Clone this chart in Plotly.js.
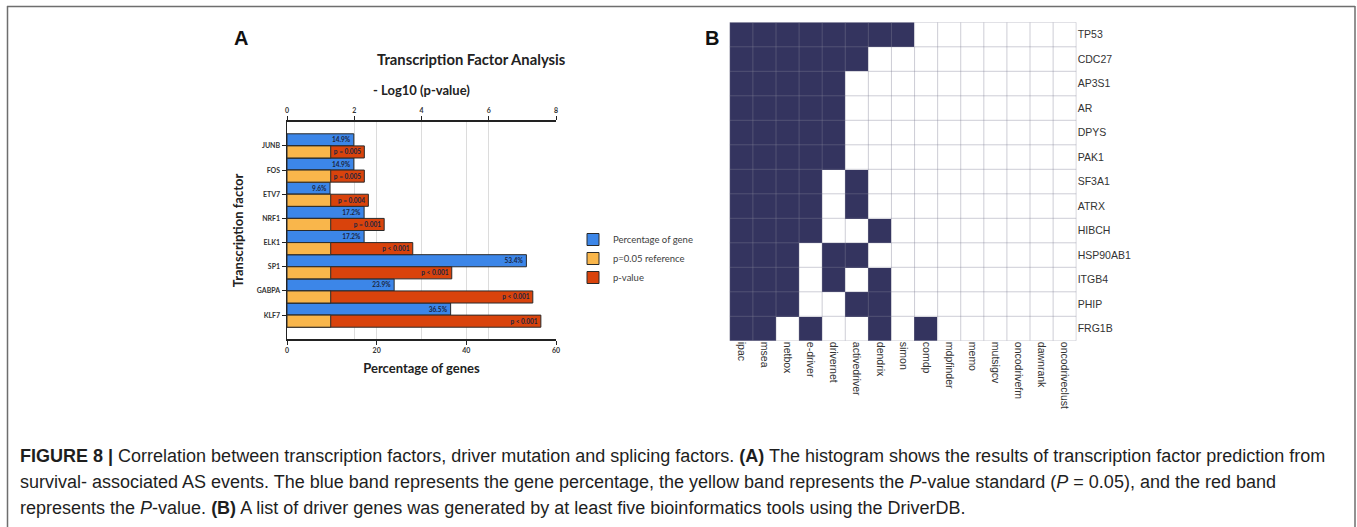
<!DOCTYPE html>
<html>
<head>
<meta charset="utf-8">
<script src="https://cdn.plot.ly/plotly-3.0.1.min.js"></script>
<style>html,body{margin:0;padding:0;background:#fff;}#chart{width:1357px;height:527px;}</style>
</head>
<body>
<div id="chart"></div>
<script>
// ---------- Panel A data ----------
const factors = ["JUNB", "FOS", "ETV7", "NRF1", "ELK1", "SP1", "GABPA", "KLF7"];
const genePct = [14.9, 14.9, 9.6, 17.2, 17.2, 53.4, 23.9, 36.5];
const genePctLabels = ["14.9%", "14.9%", "9.6%", "17.2%", "17.2%", "53.4%", "23.9%", "36.5%"];
const negLogP = [2.30, 2.30, 2.42, 2.89, 3.74, 4.90, 7.31, 7.55];
const pLabels = ["p = 0.005", "p = 0.005", "p = 0.004", "p = 0.001", "p < 0.001", "p < 0.001", "p < 0.001", "p < 0.001"];
const refLogP = [1.3, 1.3, 1.3, 1.3, 1.3, 1.3, 1.3, 1.3];

// ---------- Panel B data ----------
const tools = ["ipac", "msea", "netbox", "e-driver", "drivernet", "activedriver", "dendrix", "simon", "comdp", "mdpfinder", "memo", "mutsigcv", "oncodrivefm", "dawnrank", "oncodriveclust"];
const genes = ["TP53", "CDC27", "AP3S1", "AR", "DPYS", "PAK1", "SF3A1", "ATRX", "HIBCH", "HSP90AB1", "ITGB4", "PHIP", "FRG1B"];
const hits = [
  [1,1,1,1,1,1,1,1,0,0,0,0,0,0,0],
  [1,1,1,1,1,1,0,0,0,0,0,0,0,0,0],
  [1,1,1,1,1,0,0,0,0,0,0,0,0,0,0],
  [1,1,1,1,1,0,0,0,0,0,0,0,0,0,0],
  [1,1,1,1,1,0,0,0,0,0,0,0,0,0,0],
  [1,1,1,1,1,0,0,0,0,0,0,0,0,0,0],
  [1,1,1,1,0,1,0,0,0,0,0,0,0,0,0],
  [1,1,1,1,0,1,0,0,0,0,0,0,0,0,0],
  [1,1,1,1,0,0,1,0,0,0,0,0,0,0,0],
  [1,1,1,0,1,1,0,0,0,0,0,0,0,0,0],
  [1,1,1,0,1,0,1,0,0,0,0,0,0,0,0],
  [1,1,1,0,0,1,1,0,0,0,0,0,0,0,0],
  [1,1,0,1,0,0,1,0,1,0,0,0,0,0,0]
];

const W = 1357, H = 527;
const px = v => v / W;
const py = v => 1 - v / H;

const barFont = {family: "Lato, Arial", size: 6.5, color: "#1b2540", weight: "bold"};
const tickFont = {family: "Lato, Arial", size: 7, color: "#333", weight: "bold"};
const titleFont = {family: "Lato, Arial", size: 13, color: "#222", weight: "bold"};

const traces = [
  {
    type: "bar", orientation: "h", name: "Percentage of gene",
    y: factors, x: genePct, text: genePctLabels,
    xaxis: "x", yaxis: "y", width: 0.5, offset: -0.5,
    marker: {color: "#3c86e8", line: {color: "#2a2a2a", width: 1}},
    textposition: "inside", insidetextanchor: "end", textangle: 0,
    textfont: barFont, constraintext: "none", legendrank: 1, hoverinfo: "x+y"
  },
  {
    type: "bar", orientation: "h", name: "p-value",
    y: factors, x: negLogP, text: pLabels,
    xaxis: "x2", yaxis: "y", width: 0.5, offset: 0,
    marker: {color: "#d9430c", line: {color: "#2a2a2a", width: 1}},
    textposition: "inside", insidetextanchor: "end", textangle: 0,
    textfont: barFont, constraintext: "none", legendrank: 3, hoverinfo: "x+y"
  },
  {
    type: "bar", orientation: "h", name: "p=0.05 reference",
    y: factors, x: refLogP,
    xaxis: "x2", yaxis: "y", width: 0.5, offset: 0,
    marker: {color: "#f9b64b", line: {color: "#2a2a2a", width: 1}},
    textposition: "none", legendrank: 2, hoverinfo: "x+y"
  },
  {
    type: "heatmap", x: tools, y: genes, z: hits,
    xaxis: "x3", yaxis: "y3", zmin: 0, zmax: 1, showscale: false,
    colorscale: [[0, "#ffffff"], [1, "#34345f"]], showlegend: false
  }
];

const shapes = [];
// heatmap grid lines (cell borders)
for (let i = 0; i <= tools.length; i++) {
  shapes.push({type: "line", xref: "x3", yref: "y3", x0: i - 0.5, x1: i - 0.5, y0: -0.5, y1: genes.length - 0.5,
    line: {color: "rgba(130,130,150,0.4)", width: 1}, layer: "above"});
}
for (let j = 0; j <= genes.length; j++) {
  shapes.push({type: "line", xref: "x3", yref: "y3", x0: -0.5, x1: tools.length - 0.5, y0: j - 0.5, y1: j - 0.5,
    line: {color: "rgba(130,130,150,0.4)", width: 1}, layer: "above"});
}
// figure frame
shapes.push({type: "line", xref: "paper", yref: "paper", x0: px(7), x1: px(1355), y0: py(6.5), y1: py(6.5), line: {color: "#6e6e6e", width: 1.5}});
shapes.push({type: "line", xref: "paper", yref: "paper", x0: px(7.5), x1: px(7.5), y0: py(6), y1: py(530), line: {color: "#6e6e6e", width: 1.5}});
shapes.push({type: "line", xref: "paper", yref: "paper", x0: px(1355), x1: px(1355), y0: py(6), y1: py(530), line: {color: "#6e6e6e", width: 1.5}});

const capFont = {family: "Liberation Sans, Arial", size: 18, color: "#1e1e1e"};
const annotations = [
  {text: "<b>A</b>", xref: "paper", yref: "paper", x: px(241), y: py(38), xanchor: "center", yanchor: "middle", showarrow: false,
    font: {family: "Liberation Sans, Arial", size: 20, color: "#111"}},
  {text: "<b>B</b>", xref: "paper", yref: "paper", x: px(712), y: py(38), xanchor: "center", yanchor: "middle", showarrow: false,
    font: {family: "Liberation Sans, Arial", size: 20, color: "#111"}},
  {text: "Transcription Factor Analysis", xref: "paper", yref: "paper", x: px(471), y: py(59), xanchor: "center", yanchor: "middle", showarrow: false,
    font: {family: "Lato, Arial", size: 14.8, color: "#222", weight: "bold"}},
  {text: "<b>FIGURE 8 |</b> Correlation between transcription factors, driver mutation and splicing factors. <b>(A)</b> The histogram shows the results of transcription factor prediction from",
    xref: "paper", yref: "paper", x: px(18), y: py(456), xanchor: "left", yanchor: "middle", showarrow: false, font: capFont},
  {text: "survival- associated AS events. The blue band represents the gene percentage, the yellow band represents the <i>P</i>-value standard (<i>P</i> = 0.05), and the red band",
    xref: "paper", yref: "paper", x: px(18), y: py(482), xanchor: "left", yanchor: "middle", showarrow: false, font: capFont},
  {text: "represents the <i>P</i>-value. <b>(B)</b> A list of driver genes was generated by at least five bioinformatics tools using the DriverDB.",
    xref: "paper", yref: "paper", x: px(18), y: py(508), xanchor: "left", yanchor: "middle", showarrow: false, font: capFont}
];

const layout = {
  width: W, height: H,
  margin: {l: 0, r: 0, t: 0, b: 0},
  paper_bgcolor: "#ffffff", plot_bgcolor: "rgba(0,0,0,0)",
  barmode: "overlay",
  showlegend: true,
  legend: {x: px(573), y: py(225), xanchor: "left", yanchor: "top", bgcolor: "rgba(0,0,0,0)",
    font: {family: "Lato, Arial", size: 9.5, color: "#404040"}, tracegroupgap: 0, itemwidth: 30},
  xaxis: {
    domain: [px(287), px(556)], anchor: "y", range: [0, 60], tickvals: [0, 20, 40, 60],
    showline: true, linecolor: "#222", linewidth: 1.5, ticks: "outside", ticklen: 4, tickcolor: "#222",
    showgrid: true, gridcolor: "#dcdcdc", zeroline: false, tickfont: tickFont,
    title: {text: "Percentage of genes", font: titleFont, standoff: 10}
  },
  xaxis2: {
    overlaying: "x", side: "top", anchor: "y", range: [0, 8], tickvals: [0, 2, 4, 6, 8],
    showline: true, linecolor: "#222", linewidth: 1.5, ticks: "outside", ticklen: 4, tickcolor: "#222",
    showgrid: true, gridcolor: "#dcdcdc", zeroline: false, tickfont: tickFont,
    title: {text: "- Log10 (p-value)", font: titleFont, standoff: 8}
  },
  yaxis: {
    domain: [py(339.3), py(121.7)], anchor: "x", type: "category", categoryarray: factors,
    range: [8, -1], showline: true, linecolor: "#222", linewidth: 1.5, ticks: "outside", ticklen: 4, tickcolor: "#222",
    showgrid: false, zeroline: false, tickfont: tickFont,
    title: {text: "Transcription factor", font: titleFont, standoff: 10}
  },
  xaxis3: {
    domain: [px(729.3), px(1076.7)], anchor: "y3", type: "category", categoryarray: tools,
    tickangle: 90, ticks: "", showgrid: false, showline: false, zeroline: false,
    tickfont: {family: "Liberation Sans, Arial", size: 10.5, color: "#333"}
  },
  yaxis3: {
    domain: [py(340.8), py(22.3)], anchor: "x3", type: "category", categoryarray: genes, side: "right",
    range: [genes.length - 0.5, -0.5], ticks: "", showgrid: false, showline: false, zeroline: false,
    tickfont: {family: "Liberation Sans, Arial", size: 10.5, color: "#333"}
  },
  shapes: shapes,
  annotations: annotations
};

Plotly.newPlot("chart", traces, layout, {displayModeBar: false, staticPlot: true});
</script>
</body>
</html>
